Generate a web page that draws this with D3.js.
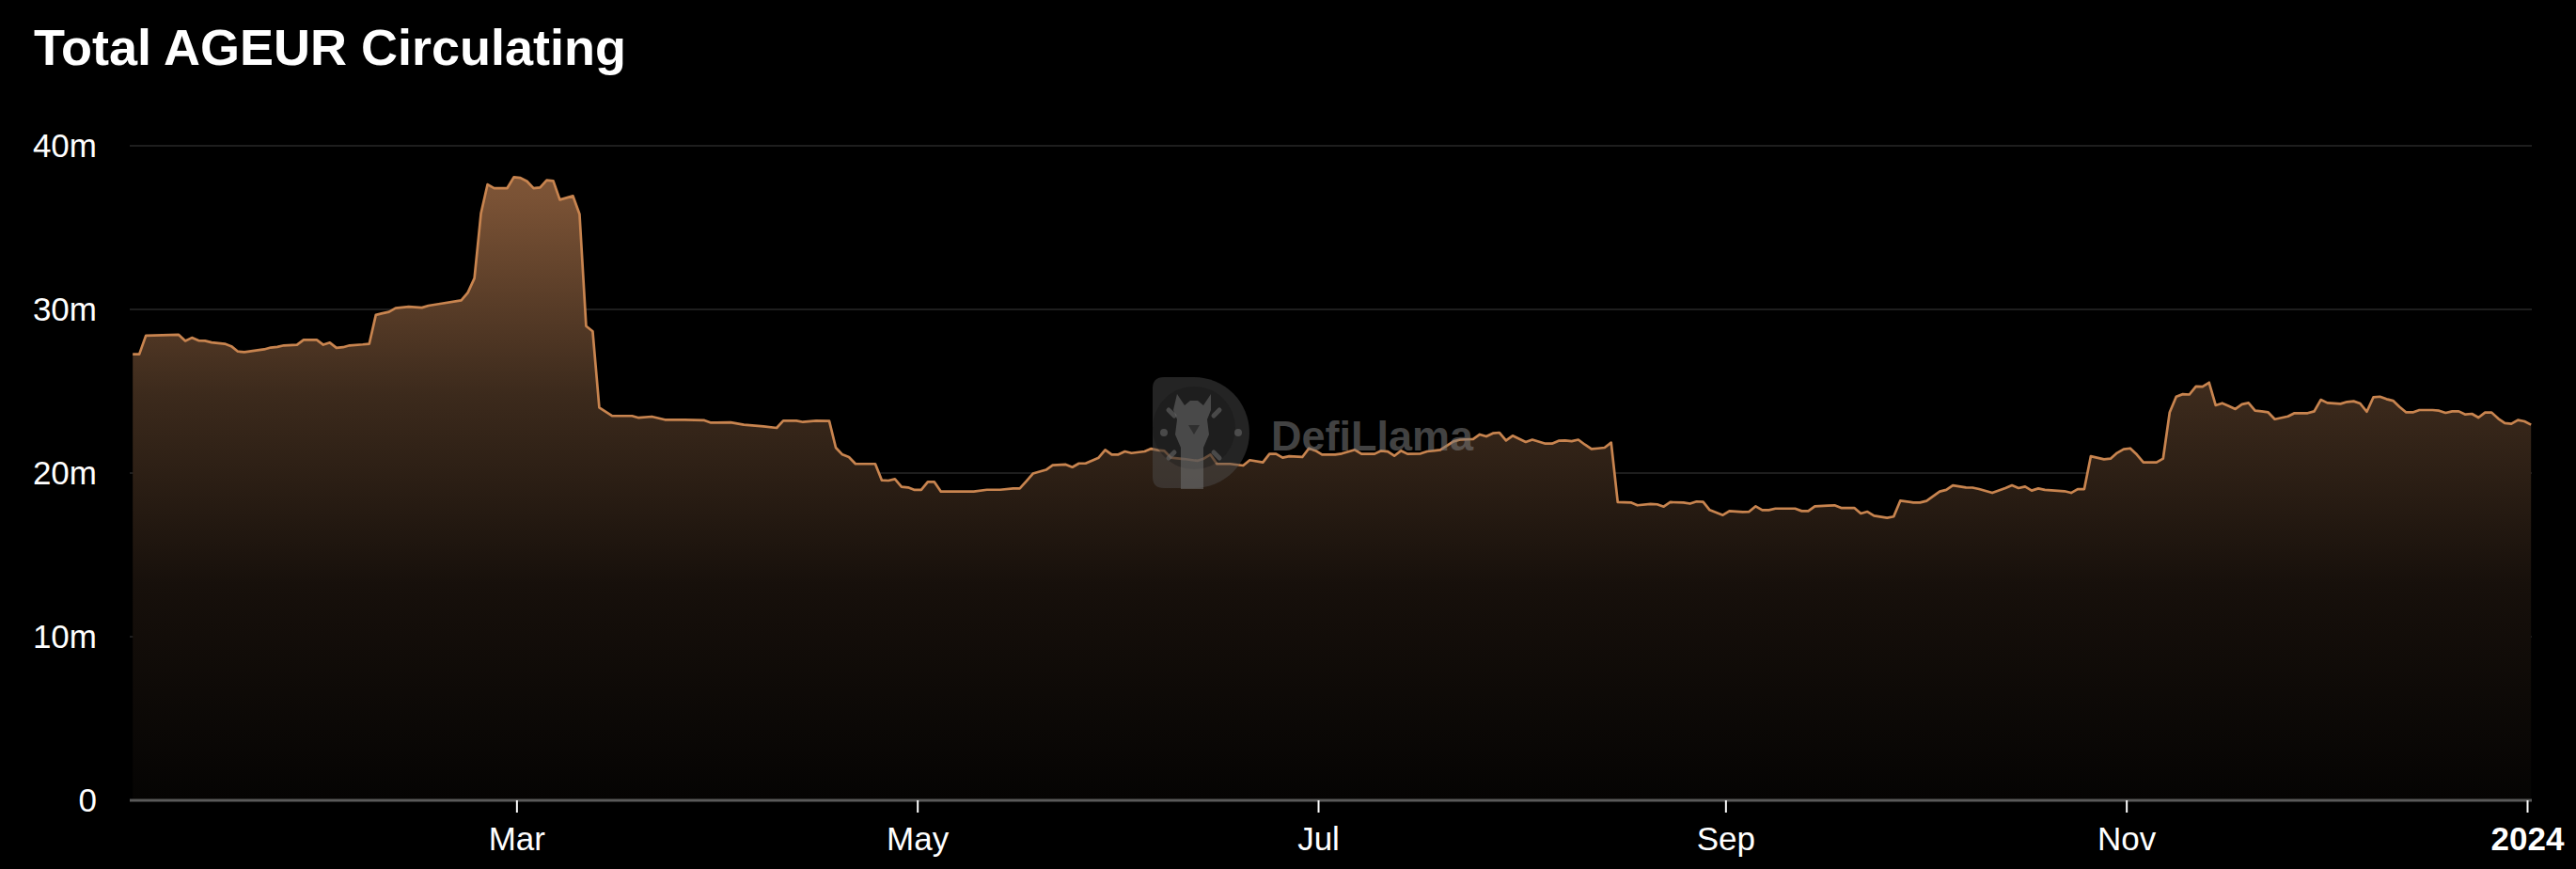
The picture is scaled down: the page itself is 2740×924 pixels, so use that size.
<!DOCTYPE html>
<html>
<head>
<meta charset="utf-8">
<script src="https://cdn.jsdelivr.net/npm/d3@7"></script>
<style>
  html, body { margin: 0; padding: 0; background: #000; }
  svg { display: block; }
</style>
</head>
<body>
<svg id="chart" width="2740" height="924"></svg>
<script>
// ---- DATA ----
const chartTitle = "Total AGEUR Circulating";
const startYear = 2023;
// day offsets from 2023-01-01 (UTC)
const days = [0,1,2,7,8,9,10,11,12,14,15,16,17,20,21,22,23,25,26,28,29,30,31,32,33,35,36,37,38,39,40,42,44,45,47,50,51,52,53,54,55,57,58,59,60,61,62,63,64,65,67,68,69,70,71,73,76,77,79,81,84,87,88,91,93,96,98,99,101,102,104,106,107,108,109,110,113,114,115,116,117,118,119,120,121,122,123,128,130,132,134,135,136,137,139,140,142,143,144,145,147,148,149,150,151,152,154,155,156,157,158,160,162,163,164,165,167,169,170,172,173,174,175,176,178,179,180,181,183,184,186,187,189,190,191,192,193,194,196,197,199,201,202,204,205,206,207,208,209,210,212,213,215,216,217,218,219,220,221,222,223,224,225,226,228,229,231,232,233,234,236,237,238,239,240,241,242,243,245,246,247,248,249,250,253,254,255,256,258,259,260,262,263,264,265,267,268,269,271,272,273,275,276,277,279,280,281,283,285,286,287,288,289,290,291,294,295,296,297,298,300,301,302,303,304,305,306,308,309,310,311,312,313,314,315,316,317,318,319,320,321,322,323,324,325,326,328,329,331,332,333,334,336,337,338,339,340,341,342,343,344,345,346,347,348,350,351,352,353,354,355,356,357,358,359,360,361,362,363,364,365];
// circulating supply, millions of agEUR
const circulatingM = [27.26,27.26,28.40,28.45,28.08,28.27,28.10,28.08,27.98,27.90,27.75,27.43,27.39,27.56,27.67,27.71,27.80,27.84,28.14,28.14,27.84,27.97,27.65,27.69,27.80,27.86,27.90,29.66,29.76,29.85,30.08,30.17,30.11,30.23,30.36,30.55,31.03,31.90,35.88,37.64,37.41,37.41,38.08,38.04,37.83,37.41,37.45,37.89,37.85,36.70,36.93,35.82,28.98,28.66,24.00,23.49,23.49,23.38,23.45,23.26,23.25,23.22,23.08,23.10,22.95,22.85,22.76,23.20,23.20,23.12,23.20,23.18,21.55,21.13,20.98,20.56,20.56,19.56,19.54,19.63,19.16,19.12,18.97,18.97,19.46,19.46,18.87,18.87,18.98,18.98,19.06,19.06,19.50,19.97,20.20,20.48,20.52,20.36,20.59,20.59,20.94,21.42,21.13,21.13,21.32,21.22,21.32,21.49,21.40,21.36,20.94,20.86,20.75,20.88,21.13,20.56,20.56,20.46,20.79,20.65,21.17,21.17,20.94,21.03,20.98,21.51,21.37,21.13,21.13,21.19,21.42,21.17,21.17,21.36,21.32,21.05,21.36,21.17,21.19,21.32,21.42,21.93,22.04,22.08,22.36,22.24,22.43,22.47,21.99,22.28,21.90,22.04,21.80,21.80,21.97,21.99,21.95,22.04,21.74,21.47,21.51,21.55,21.86,18.22,18.20,18.03,18.11,18.09,17.95,18.22,18.20,18.13,18.26,18.24,17.74,17.59,17.43,17.68,17.62,17.64,17.97,17.74,17.74,17.83,17.83,17.68,17.68,17.97,18.01,18.03,17.87,17.87,17.53,17.64,17.39,17.26,17.34,18.31,18.20,18.20,18.30,18.87,18.97,19.25,19.12,19.11,19.02,18.79,19.08,19.25,19.08,19.17,18.93,19.06,18.97,18.89,18.79,19.02,19.02,21.03,20.84,20.88,21.23,21.46,21.51,21.13,20.65,20.65,20.88,23.71,24.67,24.82,24.80,25.30,25.28,25.53,24.14,24.27,24.10,23.91,24.20,24.29,23.81,23.77,23.71,23.29,23.46,23.66,23.66,23.77,24.48,24.29,24.23,24.35,24.39,24.25,23.75,24.63,24.67,24.52,24.42,24.04,23.71,23.71,23.85,23.85,23.81,23.68,23.77,23.77,23.58,23.62,23.39,23.70,23.70,23.33,23.05,23.01,23.24,23.16,22.95];
const yTickValues = [0, 10e6, 20e6, 30e6, 40e6];
const yTickLabels = ["0", "10m", "20m", "30m", "40m"];
const xTickDates = ["2023-03-01", "2023-05-01", "2023-07-01", "2023-09-01", "2023-11-01", "2024-01-01"];
const xTickLabels = ["Mar", "May", "Jul", "Sep", "Nov", "2024"];
const watermarkText = "DefiLlama";

// ---- CHART ----
const svg = d3.select("#chart");
const W = 2740, H = 924;
const plotLeft = 138, plotRight = 2693, plotTop = 155, plotBottom = 851;
const DAY = 864e5;
const t0 = Date.UTC(startYear, 0, 1);

const data = days.map((d, i) => ({
  date: new Date(t0 + (d + 0.6) * DAY),
  value: circulatingM[i] * 1e6
}));

const x = d3.scaleUtc()
  .domain([new Date(t0), new Date(Date.UTC(startYear + 1, 0, 1))])
  .range([137, 2688]);
const y = d3.scaleLinear().domain([0, 40e6]).range([plotBottom, plotTop]);

svg.append("rect").attr("width", W).attr("height", H).attr("fill", "#000");

// title
svg.append("text")
  .attr("x", 36).attr("y", 69)
  .attr("font-family", "'Liberation Sans', Arial, Helvetica, sans-serif")
  .attr("font-weight", "bold")
  .attr("font-size", 54)
  .attr("fill", "#ffffff")
  .text(chartTitle);

// gradient
const defs = svg.append("defs");
const grad = defs.append("linearGradient")
  .attr("id", "areaGrad")
  .attr("gradientUnits", "userSpaceOnUse")
  .attr("x1", 0).attr("x2", 0)
  .attr("y1", plotTop).attr("y2", plotBottom);
[[0, "#83593a"], [0.08, "#7a5235"], [0.38, "#3c2a1c"], [0.67, "#17100b"], [1, "#050403"]]
  .forEach(([o, c]) => grad.append("stop").attr("offset", o).attr("stop-color", c));

// gridlines
const grid = svg.append("g");
yTickValues.forEach((v, i) => {
  if (v === 0) return;
  grid.append("line")
    .attr("x1", plotLeft).attr("x2", plotRight)
    .attr("y1", y(v)).attr("y2", y(v))
    .attr("stroke", "#1e1e1e").attr("stroke-width", 2);
});

// y labels
const yAxis = d3.axisLeft(y)
  .tickValues(yTickValues)
  .tickFormat((d, i) => yTickLabels[i])
  .tickSize(0).tickPadding(0);
const yG = svg.append("g").attr("transform", "translate(103,0)").call(yAxis);
yG.select(".domain").remove();
yG.selectAll("text")
  .attr("font-family", "'Liberation Sans', Arial, Helvetica, sans-serif")
  .attr("font-size", 35)
  .attr("fill", "#ffffff")
  .attr("dy", "0.34em");

// area + line
const area = d3.area()
  .x(d => x(d.date)).y0(y(0)).y1(d => y(d.value))
  .curve(d3.curveLinear);
const line = d3.line()
  .x(d => x(d.date)).y(d => y(d.value))
  .curve(d3.curveLinear);

svg.append("path").datum(data)
  .attr("d", area).attr("fill", "url(#areaGrad)");
svg.append("path").datum(data)
  .attr("d", line).attr("fill", "none")
  .attr("stroke", "#c8844f").attr("stroke-width", 2.7)
  .attr("stroke-linejoin", "round");

// x axis line
svg.append("line")
  .attr("x1", plotLeft).attr("x2", plotRight)
  .attr("y1", plotBottom).attr("y2", plotBottom)
  .attr("stroke", "#5a5a5a").attr("stroke-width", 3);

const xTicks = xTickDates.map(s => new Date(s + "T00:00:00Z"));
const xAxis = d3.axisBottom(x)
  .tickValues(xTicks)
  .tickFormat((d, i) => xTickLabels[i])
  .tickSize(13).tickPadding(15).tickSizeOuter(0);
const xG = svg.append("g").attr("transform", `translate(0,${plotBottom})`).call(xAxis);
xG.select(".domain").remove();
xG.selectAll(".tick line").attr("stroke", "#ffffff").attr("stroke-width", 2);
xG.selectAll("text")
  .attr("font-family", "'Liberation Sans', Arial, Helvetica, sans-serif")
  .attr("font-size", 35)
  .attr("fill", "#ffffff")
  .attr("font-weight", (d, i) => xTickLabels[i] === "2024" ? "bold" : "normal");

// watermark
const wm = svg.append("g");
const lx = 1226, ly = 401, lw = 103, lh = 118, r = lh / 2, cr = 12;
const cx = lx + lw - r;
wm.append("path")
  .attr("d", `M${lx + cr},${ly} L${cx},${ly} A${r},${r} 0 0 1 ${cx},${ly + lh} L${lx + cr},${ly + lh} Q${lx},${ly + lh} ${lx},${ly + lh - cr} L${lx},${ly + cr} Q${lx},${ly} ${lx + cr},${ly} Z`)
  .attr("fill", "rgba(80,80,80,0.45)");
wm.append("circle").attr("cx", 1270).attr("cy", 455).attr("r", 44)
  .attr("fill", "rgba(20,20,20,0.35)");
[[1243, 436, 1249, 442], [1297, 436, 1291, 442], [1243, 487, 1249, 481], [1297, 487, 1291, 481]]
  .forEach(([a, b, c, d]) => wm.append("line")
    .attr("x1", a).attr("y1", b).attr("x2", c).attr("y2", d)
    .attr("stroke", "rgba(110,110,110,0.55)").attr("stroke-width", 5).attr("stroke-linecap", "round"));
wm.append("circle").attr("cx", 1238).attr("cy", 460).attr("r", 4).attr("fill", "rgba(110,110,110,0.55)");
wm.append("circle").attr("cx", 1317).attr("cy", 460).attr("r", 4).attr("fill", "rgba(110,110,110,0.55)");
wm.append("path")
  .attr("d", "M1252,419 L1260,431 L1266,426 L1274,426 L1280,431 L1288,419 L1288,436 L1284,446 L1286,462 L1280,476 L1280,520 L1256,520 L1256,476 L1250,462 L1252,446 L1248,436 Z")
  .attr("fill", "rgba(110,110,110,0.55)");
wm.append("path")
  .attr("d", "M1264,452 L1276,452 L1270,462 Z")
  .attr("fill", "rgba(30,30,30,0.6)");
wm.append("text")
  .attr("x", 1352).attr("y", 479)
  .attr("font-family", "'Liberation Sans', Arial, sans-serif")
  .attr("font-weight", "bold")
  .attr("font-size", 45)
  .attr("fill", "rgba(125,125,125,0.55)")
  .text(watermarkText);
</script>
</body>
</html>
